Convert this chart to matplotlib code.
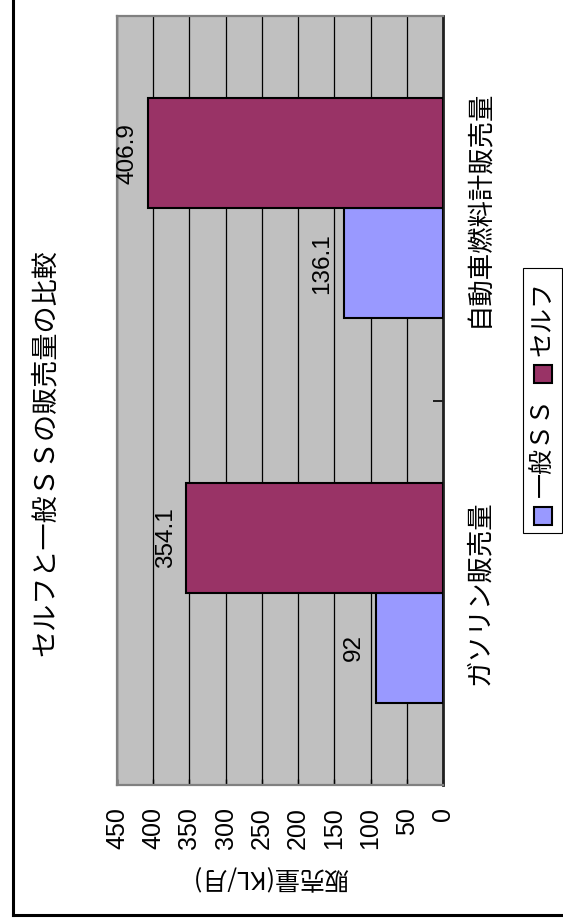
import matplotlib
matplotlib.use('Agg')
from matplotlib import pyplot as plt
from matplotlib.patches import Rectangle
from matplotlib.lines import Line2D

plt.rcParams['font.family'] = ['Liberation Sans', 'Noto Sans CJK JP']

# データ
categories = ['ガソリン販売量', '自動車燃料計販売量']
series_names = ['一般ＳＳ', 'セルフ']
general_ss = [92, 136.1]
self_ss = [354.1, 406.9]
xticks = [0, 50, 100, 150, 200, 250, 300, 350, 400, 450]

colors = ['#9999FF', '#993366']
W, H = 563, 924


def fx(px):
    return px / W


def fy(py):
    return 1 - py / H


fig = plt.figure(figsize=(W / 100, H / 100), dpi=100)
ax = fig.add_axes([fx(117), fy(785), fx(443) - fx(117), fy(16) - fy(785)])
ax.set_facecolor('#C0C0C0')

# 横向きの棒グラフ（値軸は右が0）
bh = 1 / 3.5
ypos = list(range(len(categories)))
ax.barh([y - bh / 2 for y in ypos], general_ss, height=bh, color=colors[0],
        edgecolor='black', linewidth=1.5, zorder=3)
ax.barh([y + bh / 2 for y in ypos], self_ss, height=bh, color=colors[1],
        edgecolor='black', linewidth=1.5, zorder=3)

for y, v in zip(ypos, general_ss):
    ax.annotate(f'{v:g}', (v, y - bh / 2), xytext=(-16, 0), textcoords='offset points',
                rotation=90, ha='center', va='center', fontsize=17.5)
for y, v in zip(ypos, self_ss):
    ax.annotate(f'{v:g}', (v, y + bh / 2), xytext=(-15, 0), textcoords='offset points',
                rotation=90, ha='center', va='center', fontsize=17.5)

ax.set_xlim(450, 0)
ax.set_ylim(-0.5, 1.5)
ax.set_xticks(xticks)
ax.set_xticklabels([str(t) for t in xticks], rotation=90, fontsize=18)
ax.tick_params(axis='x', direction='in', length=4, width=1, pad=16, color='black')
ax.xaxis.grid(True, color='black', linewidth=0.9)
ax.set_axisbelow(True)

ax.yaxis.tick_right()
ax.set_yticks(ypos)
ax.set_yticklabels(categories, rotation=90, va='center', fontsize=19,
                   family=['Noto Sans CJK JP'])
ax.set_yticks([-0.5, 0.5, 1.5], minor=True)
ax.tick_params(axis='y', which='major', length=0, pad=17)
ax.tick_params(axis='y', which='minor', direction='in', length=7, width=1.2, color='black')

for side in ['top', 'left', 'bottom']:
    ax.spines[side].set_color('#808080')
    ax.spines[side].set_linewidth(1.6)
ax.spines['right'].set_color('#202020')
ax.spines['right'].set_linewidth(2)

ax.set_xlabel('販売量(KL/月)', rotation=180, fontsize=18, family=['Noto Sans CJK JP'])
ax.xaxis.set_label_coords(0.47, -0.103)

# タイトル
fig.text(fx(45), fy(453), 'セルフと一般ＳＳの販売量の比較', rotation=90,
         ha='center', va='center', fontsize=19.5, family=['Noto Sans CJK JP'])

# 凡例（縦書き）
fig.patches.append(Rectangle((fx(523), fy(533)), fx(562) - fx(523), fy(268) - fy(533),
                             transform=fig.transFigure, facecolor='white',
                             edgecolor='black', linewidth=0.8))
fig.patches.append(Rectangle((fx(534), fy(525)), fx(18), fy(0) - fy(18),
                             transform=fig.transFigure, facecolor=colors[0],
                             edgecolor='black', linewidth=1.5))
fig.text(fx(543), fy(447), series_names[0], rotation=90, ha='center', va='center',
         fontsize=18, family=['Noto Sans CJK JP'])
fig.patches.append(Rectangle((fx(534), fy(383)), fx(18), fy(0) - fy(18),
                             transform=fig.transFigure, facecolor=colors[1],
                             edgecolor='black', linewidth=1.5))
fig.text(fx(543), fy(318), series_names[1], rotation=90, ha='center', va='center',
         fontsize=18, family=['Noto Sans CJK JP'])

# 外枠
fig.lines.append(Line2D([fx(13), fx(13)], [fy(915), 1], transform=fig.transFigure,
                        color='black', linewidth=2.2))
fig.lines.append(Line2D([fx(13), 1], [fy(915), fy(915)], transform=fig.transFigure,
                        color='black', linewidth=2.2))

fig.savefig('out.png', dpi=100)
